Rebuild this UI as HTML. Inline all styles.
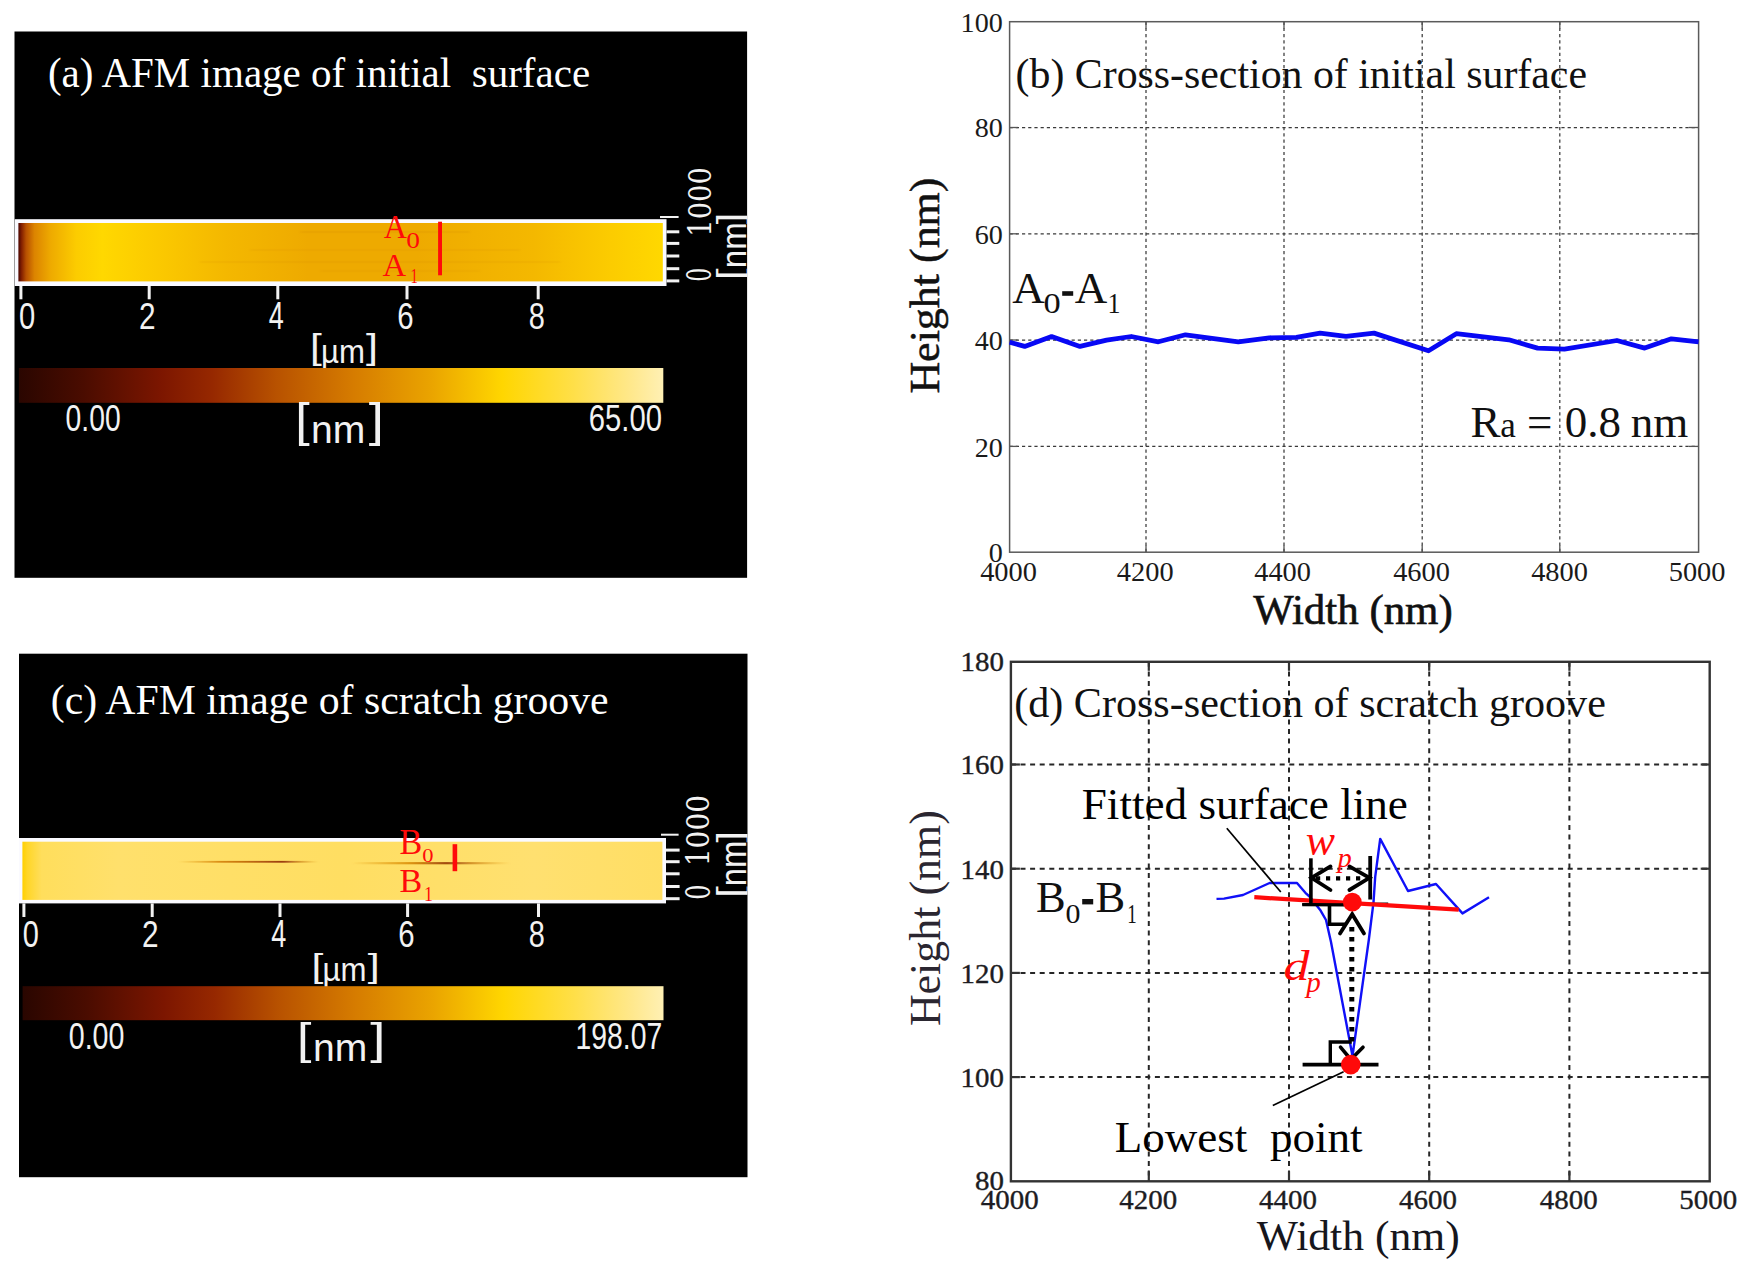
<!DOCTYPE html>
<html lang="en"><head><meta charset="utf-8"><title>AFM figure</title>
<style>html,body{margin:0;padding:0;background:#fff;overflow:hidden}svg{display:block}text{white-space:pre}</style></head><body>
<svg width="1749" height="1268" viewBox="0 0 1749 1268">
<defs>
<linearGradient id="cbar" x1="0" x2="1" y1="0" y2="0">
<stop offset="0" stop-color="#2a0600"/><stop offset="0.10" stop-color="#4a0c00"/><stop offset="0.22" stop-color="#7c1600"/>
<stop offset="0.30" stop-color="#962800"/><stop offset="0.40" stop-color="#b85200"/><stop offset="0.52" stop-color="#d67c00"/>
<stop offset="0.64" stop-color="#eaa400"/><stop offset="0.75" stop-color="#ffd600"/><stop offset="0.86" stop-color="#ffdf48"/>
<stop offset="0.95" stop-color="#ffe88c"/><stop offset="1" stop-color="#fff0b4"/>
</linearGradient>
<linearGradient id="stripA" x1="0" x2="1" y1="0" y2="0">
<stop offset="0" stop-color="#4a0500"/><stop offset="0.005" stop-color="#842000"/><stop offset="0.012" stop-color="#b85000"/>
<stop offset="0.025" stop-color="#dc8400"/><stop offset="0.05" stop-color="#eeaa00"/><stop offset="0.09" stop-color="#fccc00"/>
<stop offset="0.13" stop-color="#ffd800"/><stop offset="0.20" stop-color="#fccc00"/><stop offset="0.32" stop-color="#f4b800"/>
<stop offset="0.45" stop-color="#eeaa00"/><stop offset="0.62" stop-color="#eeaa00"/><stop offset="0.80" stop-color="#f4b800"/>
<stop offset="0.92" stop-color="#fccc00"/><stop offset="1" stop-color="#ffd800"/>
</linearGradient>
<linearGradient id="stripC" x1="0" x2="1" y1="0" y2="0">
<stop offset="0" stop-color="#ffd000"/><stop offset="0.008" stop-color="#ffd628"/><stop offset="0.03" stop-color="#ffde5c"/><stop offset="0.15" stop-color="#ffe06c"/>
<stop offset="0.5" stop-color="#ffde62"/><stop offset="0.8" stop-color="#ffe070"/><stop offset="1" stop-color="#ffde64"/>
</linearGradient>
<linearGradient id="scr1" x1="0" x2="1" y1="0" y2="0">
<stop offset="0" stop-color="#e09000" stop-opacity="0"/><stop offset="0.3" stop-color="#d07800" stop-opacity="0.8"/>
<stop offset="0.75" stop-color="#9a3c10" stop-opacity="1"/><stop offset="1" stop-color="#d08000" stop-opacity="0"/>
</linearGradient>
<linearGradient id="scr2" x1="0" x2="1" y1="0" y2="0">
<stop offset="0" stop-color="#e09000" stop-opacity="0"/><stop offset="0.35" stop-color="#d88800" stop-opacity="0.8"/>
<stop offset="0.6" stop-color="#a04810" stop-opacity="1"/><stop offset="1" stop-color="#e09000" stop-opacity="0"/>
</linearGradient>
<filter id="b1" x="-5%" y="-200%" width="110%" height="500%"><feGaussianBlur stdDeviation="1.5 0.7"/></filter>
<clipPath id="clipA"><rect x="14.5" y="31.5" width="732.6" height="546.3"/></clipPath>
<clipPath id="clipC"><rect x="19" y="653.7" width="728.5" height="523.5"/></clipPath>
</defs>
<rect x="14.50" y="31.50" width="732.60" height="546.30" fill="#000" />
<g clip-path="url(#clipA)">
<rect x="14.50" y="219.20" width="652.00" height="66.80" fill="#fafaff" />
<rect x="18.40" y="223.00" width="644.40" height="58.40" fill="url(#stripA)" />
<rect x="300.00" y="230.80" width="170.00" height="2.40" fill="#c87800" opacity="0.1" filter="url(#b1)"/>
<rect x="250.00" y="248.80" width="270.00" height="2.40" fill="#c87800" opacity="0.07" filter="url(#b1)"/>
<rect x="200.00" y="260.80" width="360.00" height="2.40" fill="#c87800" opacity="0.08" filter="url(#b1)"/>
<rect x="320.00" y="269.80" width="160.00" height="2.40" fill="#c87800" opacity="0.06" filter="url(#b1)"/>
<rect x="19.40" y="286.00" width="3.00" height="13.30" fill="#f2f2f2" />
<rect x="147.70" y="286.00" width="3.00" height="13.30" fill="#f2f2f2" />
<rect x="276.30" y="286.00" width="3.00" height="13.30" fill="#f2f2f2" />
<rect x="405.50" y="286.00" width="3.00" height="13.30" fill="#f2f2f2" />
<rect x="536.70" y="286.00" width="3.00" height="13.30" fill="#f2f2f2" />
<rect x="666.50" y="230.30" width="12.80" height="3.00" fill="#f2f2f2" />
<rect x="666.50" y="241.90" width="12.80" height="3.00" fill="#f2f2f2" />
<rect x="666.50" y="254.50" width="12.80" height="3.00" fill="#f2f2f2" />
<rect x="666.50" y="267.20" width="12.80" height="3.00" fill="#f2f2f2" />
<rect x="666.50" y="279.40" width="12.80" height="3.00" fill="#f2f2f2" />
<rect x="660.00" y="216.00" width="18.60" height="2.00" fill="#f2f2f2" />
<text transform="matrix(0.8100 0 0 1.0299 18.93 329.23)" style="font-family:'Liberation Sans', sans-serif;font-size:36px" fill="#f2f2f2"  xml:space="preserve">0</text>
<text transform="matrix(0.8273 0 0 1.0367 138.91 329.40)" style="font-family:'Liberation Sans', sans-serif;font-size:36px" fill="#f2f2f2"  xml:space="preserve">2</text>
<text transform="matrix(0.7506 0 0 1.0518 268.67 329.40)" style="font-family:'Liberation Sans', sans-serif;font-size:36px" fill="#f2f2f2"  xml:space="preserve">4</text>
<text transform="matrix(0.8153 0 0 1.0220 397.33 329.03)" style="font-family:'Liberation Sans', sans-serif;font-size:36px" fill="#f2f2f2"  xml:space="preserve">6</text>
<text transform="matrix(0.8038 0 0 1.0220 528.85 329.03)" style="font-family:'Liberation Sans', sans-serif;font-size:36px" fill="#f2f2f2"  xml:space="preserve">8</text>
<text transform="matrix(1.2500 0 0 1.0120 310.12 358.69)" style="font-family:'Liberation Sans', sans-serif;font-size:34px" fill="#f2f2f2"  xml:space="preserve">[</text>
<text transform="matrix(1.2647 0 0 1.0120 366.11 358.69)" style="font-family:'Liberation Sans', sans-serif;font-size:34px" fill="#f2f2f2"  xml:space="preserve">]</text>
<text transform="matrix(0.9169 0 0 0.9700 320.92 362.50)" style="font-family:'Liberation Sans', sans-serif;font-size:34px" fill="#f2f2f2"  xml:space="preserve">µm</text>
<rect x="18.90" y="368.00" width="644.40" height="34.80" fill="url(#cbar)" />
<text transform="matrix(0.7857 0 0 1.0377 65.57 431.33)" style="font-family:'Liberation Sans', sans-serif;font-size:36px" fill="#f2f2f2"  xml:space="preserve">0.00</text>
<text transform="matrix(0.8115 0 0 1.0181 588.84 431.43)" style="font-family:'Liberation Sans', sans-serif;font-size:36px" fill="#f2f2f2"  xml:space="preserve">65.00</text>
<text transform="matrix(1.1818 0 0 1.0508 295.16 436.34)" style="font-family:'Liberation Sans', sans-serif;font-size:44px" fill="#f2f2f2"  xml:space="preserve">[</text>
<text transform="matrix(1.2386 0 0 1.0508 368.64 436.34)" style="font-family:'Liberation Sans', sans-serif;font-size:44px" fill="#f2f2f2"  xml:space="preserve">]</text>
<text transform="matrix(0.9768 0 0 0.9783 311.10 443.10)" style="font-family:'Liberation Sans', sans-serif;font-size:40px" fill="#f2f2f2"  xml:space="preserve">nm</text>
<text transform="translate(711.14 281.87) rotate(-90) scale(0.7351 1.1454)" style="font-family:'DejaVu Serif', 'Liberation Serif', serif;font-size:30px" fill="#f2f2f2"  xml:space="preserve">0</text>
<text transform="translate(710.57 236.78) rotate(-90) scale(0.9137 1.0793)" style="font-family:'DejaVu Serif', 'Liberation Serif', serif;font-size:30px" fill="#f2f2f2"  xml:space="preserve">1000</text>
<text transform="translate(742.34 279.94) rotate(-90) scale(1.2353 1.0183)" style="font-family:'Liberation Sans', sans-serif;font-size:34px" fill="#f2f2f2"  xml:space="preserve">[</text>
<text transform="translate(742.34 224.27) rotate(-90) scale(1.2059 1.0183)" style="font-family:'Liberation Sans', sans-serif;font-size:34px" fill="#f2f2f2"  xml:space="preserve">]</text>
<text transform="translate(746.40 268.20) rotate(-90) scale(0.9713 1.0522)" style="font-family:'Liberation Sans', sans-serif;font-size:34px" fill="#f2f2f2"  xml:space="preserve">nm</text>
<text transform="matrix(0.9448 0 0 1.0071 383.68 238.00)" style="font-family:'Liberation Serif', serif;font-size:34px" fill="#ff0a0a"  xml:space="preserve">A</text>
<text transform="matrix(1.2464 0 0 1.0210 406.29 247.98)" style="font-family:'Liberation Serif', serif;font-size:22px" fill="#ff0a0a"  xml:space="preserve">0</text>
<text transform="matrix(0.9656 0 0 0.9447 382.47 275.60)" style="font-family:'Liberation Serif', serif;font-size:34px" fill="#ff0a0a"  xml:space="preserve">A</text>
<text transform="matrix(0.6690 0 0 0.9504 410.42 283.30)" style="font-family:'Liberation Serif', serif;font-size:22px" fill="#ff0a0a"  xml:space="preserve">1</text>
<rect x="438.10" y="221.70" width="3.90" height="53.60" fill="#ff0a0a" />
</g>
<text transform="matrix(0.9589 0 0 1.0000 47.92 87.30)" style="font-family:'Liberation Serif', serif;font-size:42.8px" fill="#fff"  xml:space="preserve">(a) AFM image of initial  surface</text>
<rect x="19.00" y="653.70" width="728.50" height="523.50" fill="#000" />
<g clip-path="url(#clipC)">
<rect x="19.00" y="838.00" width="647.00" height="65.40" fill="#fafaff" />
<rect x="22.40" y="841.70" width="640.00" height="58.20" fill="url(#stripC)" />
<rect x="178.00" y="860.90" width="140.00" height="1.80" fill="url(#scr1)" filter="url(#b1)"/>
<rect x="352.00" y="862.10" width="158.00" height="2.20" fill="url(#scr2)" filter="url(#b1)"/>
<rect x="22.40" y="903.40" width="3.00" height="13.60" fill="#f2f2f2" />
<rect x="150.70" y="903.40" width="3.00" height="13.60" fill="#f2f2f2" />
<rect x="278.50" y="903.40" width="3.00" height="13.60" fill="#f2f2f2" />
<rect x="406.10" y="903.40" width="3.00" height="13.60" fill="#f2f2f2" />
<rect x="537.00" y="903.40" width="3.00" height="13.60" fill="#f2f2f2" />
<rect x="666.00" y="848.60" width="13.60" height="3.00" fill="#f2f2f2" />
<rect x="666.00" y="860.20" width="13.60" height="3.00" fill="#f2f2f2" />
<rect x="666.00" y="872.30" width="13.60" height="3.00" fill="#f2f2f2" />
<rect x="666.00" y="885.00" width="13.60" height="3.00" fill="#f2f2f2" />
<rect x="666.00" y="897.20" width="13.60" height="3.00" fill="#f2f2f2" />
<rect x="661.00" y="833.70" width="17.60" height="2.00" fill="#f2f2f2" />
<text transform="matrix(0.8042 0 0 1.0299 22.74 946.83)" style="font-family:'Liberation Sans', sans-serif;font-size:36px" fill="#f2f2f2"  xml:space="preserve">0</text>
<text transform="matrix(0.8273 0 0 1.0367 142.01 947.00)" style="font-family:'Liberation Sans', sans-serif;font-size:36px" fill="#f2f2f2"  xml:space="preserve">2</text>
<text transform="matrix(0.7506 0 0 1.0518 271.17 947.00)" style="font-family:'Liberation Sans', sans-serif;font-size:36px" fill="#f2f2f2"  xml:space="preserve">4</text>
<text transform="matrix(0.8153 0 0 1.0220 398.23 946.63)" style="font-family:'Liberation Sans', sans-serif;font-size:36px" fill="#f2f2f2"  xml:space="preserve">6</text>
<text transform="matrix(0.8038 0 0 1.0220 528.85 946.63)" style="font-family:'Liberation Sans', sans-serif;font-size:36px" fill="#f2f2f2"  xml:space="preserve">8</text>
<text transform="matrix(1.2500 0 0 0.9930 311.52 976.72)" style="font-family:'Liberation Sans', sans-serif;font-size:34px" fill="#f2f2f2"  xml:space="preserve">[</text>
<text transform="matrix(1.2647 0 0 0.9930 367.71 976.72)" style="font-family:'Liberation Sans', sans-serif;font-size:34px" fill="#f2f2f2"  xml:space="preserve">]</text>
<text transform="matrix(0.9169 0 0 0.9700 322.52 980.50)" style="font-family:'Liberation Sans', sans-serif;font-size:34px" fill="#f2f2f2"  xml:space="preserve">µm</text>
<rect x="22.60" y="986.20" width="640.90" height="34.00" fill="url(#cbar)" />
<text transform="matrix(0.7946 0 0 1.0377 68.76 1048.83)" style="font-family:'Liberation Sans', sans-serif;font-size:36px" fill="#f2f2f2"  xml:space="preserve">0.00</text>
<text transform="matrix(0.7869 0 0 1.0063 575.53 1048.84)" style="font-family:'Liberation Sans', sans-serif;font-size:36px" fill="#f2f2f2"  xml:space="preserve">198.07</text>
<text transform="matrix(1.1818 0 0 1.0288 296.96 1053.64)" style="font-family:'Liberation Sans', sans-serif;font-size:44px" fill="#f2f2f2"  xml:space="preserve">[</text>
<text transform="matrix(1.2386 0 0 1.0288 370.34 1053.64)" style="font-family:'Liberation Sans', sans-serif;font-size:44px" fill="#f2f2f2"  xml:space="preserve">]</text>
<text transform="matrix(0.9768 0 0 0.9689 312.90 1060.60)" style="font-family:'Liberation Sans', sans-serif;font-size:40px" fill="#f2f2f2"  xml:space="preserve">nm</text>
<text transform="translate(710.25 899.70) rotate(-90) scale(0.8013 1.1189)" style="font-family:'DejaVu Serif', 'Liberation Serif', serif;font-size:30px" fill="#f2f2f2"  xml:space="preserve">0</text>
<text transform="translate(709.07 866.26) rotate(-90) scale(0.9364 1.0661)" style="font-family:'DejaVu Serif', 'Liberation Serif', serif;font-size:30px" fill="#f2f2f2"  xml:space="preserve">1000</text>
<text transform="translate(742.10 897.74) rotate(-90) scale(1.2353 1.0531)" style="font-family:'Liberation Sans', sans-serif;font-size:34px" fill="#f2f2f2"  xml:space="preserve">[</text>
<text transform="translate(742.10 842.57) rotate(-90) scale(1.2059 1.0531)" style="font-family:'Liberation Sans', sans-serif;font-size:34px" fill="#f2f2f2"  xml:space="preserve">]</text>
<text transform="translate(746.40 886.19) rotate(-90) scale(0.9643 1.0906)" style="font-family:'Liberation Sans', sans-serif;font-size:34px" fill="#f2f2f2"  xml:space="preserve">nm</text>
<text transform="matrix(1.0020 0 0 1.0257 399.38 854.38)" style="font-family:'Liberation Serif', serif;font-size:34px" fill="#ff0a0a"  xml:space="preserve">B</text>
<text transform="matrix(1.0227 0 0 0.8934 422.18 862.30)" style="font-family:'Liberation Serif', serif;font-size:22px" fill="#ff0a0a"  xml:space="preserve">0</text>
<text transform="matrix(1.0020 0 0 1.0033 399.38 891.89)" style="font-family:'Liberation Serif', serif;font-size:34px" fill="#ff0a0a"  xml:space="preserve">B</text>
<text transform="matrix(0.8105 0 0 0.9298 423.95 900.50)" style="font-family:'Liberation Serif', serif;font-size:22px" fill="#ff0a0a"  xml:space="preserve">1</text>
<rect x="452.60" y="844.20" width="4.60" height="27.00" fill="#ff0a0a" />
</g>
<text transform="matrix(0.9947 0 0 1.0000 50.79 713.90)" style="font-family:'Liberation Serif', serif;font-size:42px" fill="#fff"  xml:space="preserve">(c) AFM image of scratch groove</text>
<line x1="1146.00" y1="21.70" x2="1146.00" y2="552.20" stroke="#3a3a3a" stroke-width="1.25" stroke-dasharray="3.2 3"/>
<line x1="1146.00" y1="21.70" x2="1146.00" y2="28.70" stroke="#555" stroke-width="1.3" />
<line x1="1146.00" y1="545.20" x2="1146.00" y2="552.20" stroke="#555" stroke-width="1.3" />
<line x1="1284.00" y1="21.70" x2="1284.00" y2="552.20" stroke="#3a3a3a" stroke-width="1.25" stroke-dasharray="3.2 3"/>
<line x1="1284.00" y1="21.70" x2="1284.00" y2="28.70" stroke="#555" stroke-width="1.3" />
<line x1="1284.00" y1="545.20" x2="1284.00" y2="552.20" stroke="#555" stroke-width="1.3" />
<line x1="1422.20" y1="21.70" x2="1422.20" y2="552.20" stroke="#3a3a3a" stroke-width="1.25" stroke-dasharray="3.2 3"/>
<line x1="1422.20" y1="21.70" x2="1422.20" y2="28.70" stroke="#555" stroke-width="1.3" />
<line x1="1422.20" y1="545.20" x2="1422.20" y2="552.20" stroke="#555" stroke-width="1.3" />
<line x1="1559.80" y1="21.70" x2="1559.80" y2="552.20" stroke="#3a3a3a" stroke-width="1.25" stroke-dasharray="3.2 3"/>
<line x1="1559.80" y1="21.70" x2="1559.80" y2="28.70" stroke="#555" stroke-width="1.3" />
<line x1="1559.80" y1="545.20" x2="1559.80" y2="552.20" stroke="#555" stroke-width="1.3" />
<line x1="1009.60" y1="127.50" x2="1698.60" y2="127.50" stroke="#3a3a3a" stroke-width="1.25" stroke-dasharray="3.2 3"/>
<line x1="1009.60" y1="127.50" x2="1017.60" y2="127.50" stroke="#555" stroke-width="1.3" />
<line x1="1688.60" y1="127.50" x2="1698.60" y2="127.50" stroke="#555" stroke-width="1.3" />
<line x1="1009.60" y1="233.80" x2="1698.60" y2="233.80" stroke="#3a3a3a" stroke-width="1.25" stroke-dasharray="3.2 3"/>
<line x1="1009.60" y1="233.80" x2="1017.60" y2="233.80" stroke="#555" stroke-width="1.3" />
<line x1="1688.60" y1="233.80" x2="1698.60" y2="233.80" stroke="#555" stroke-width="1.3" />
<line x1="1009.60" y1="340.00" x2="1698.60" y2="340.00" stroke="#3a3a3a" stroke-width="1.25" stroke-dasharray="3.2 3"/>
<line x1="1009.60" y1="340.00" x2="1017.60" y2="340.00" stroke="#555" stroke-width="1.3" />
<line x1="1688.60" y1="340.00" x2="1698.60" y2="340.00" stroke="#555" stroke-width="1.3" />
<line x1="1009.60" y1="446.40" x2="1698.60" y2="446.40" stroke="#3a3a3a" stroke-width="1.25" stroke-dasharray="3.2 3"/>
<line x1="1009.60" y1="446.40" x2="1017.60" y2="446.40" stroke="#555" stroke-width="1.3" />
<line x1="1688.60" y1="446.40" x2="1698.60" y2="446.40" stroke="#555" stroke-width="1.3" />
<rect x="1009.6" y="21.7" width="688.9999999999999" height="530.5" fill="none" stroke="#5a5a5a" stroke-width="1.5"/>
<text transform="matrix(1.0700 0 0 1 960.62 32.10)" style="font-family:'Liberation Serif', serif;font-size:26.3px" fill="#1a1a1a"  xml:space="preserve">100</text>
<text transform="matrix(1.0700 0 0 1 974.69 137.40)" style="font-family:'Liberation Serif', serif;font-size:26.3px" fill="#1a1a1a"  xml:space="preserve">80</text>
<text transform="matrix(1.0700 0 0 1 974.69 243.80)" style="font-family:'Liberation Serif', serif;font-size:26.3px" fill="#1a1a1a"  xml:space="preserve">60</text>
<text transform="matrix(1.0700 0 0 1 974.69 350.20)" style="font-family:'Liberation Serif', serif;font-size:26.3px" fill="#1a1a1a"  xml:space="preserve">40</text>
<text transform="matrix(1.0700 0 0 1 974.69 456.60)" style="font-family:'Liberation Serif', serif;font-size:26.3px" fill="#1a1a1a"  xml:space="preserve">20</text>
<text transform="matrix(1.0700 0 0 1 988.76 562.00)" style="font-family:'Liberation Serif', serif;font-size:26.3px" fill="#1a1a1a"  xml:space="preserve">0</text>
<text transform="matrix(1.0800 0 0 1 980.13 580.80)" style="font-family:'Liberation Serif', serif;font-size:26.3px" fill="#1a1a1a"  xml:space="preserve">4000</text>
<text transform="matrix(1.0800 0 0 1 1116.83 580.80)" style="font-family:'Liberation Serif', serif;font-size:26.3px" fill="#1a1a1a"  xml:space="preserve">4200</text>
<text transform="matrix(1.0800 0 0 1 1254.23 580.80)" style="font-family:'Liberation Serif', serif;font-size:26.3px" fill="#1a1a1a"  xml:space="preserve">4400</text>
<text transform="matrix(1.0800 0 0 1 1393.13 580.80)" style="font-family:'Liberation Serif', serif;font-size:26.3px" fill="#1a1a1a"  xml:space="preserve">4600</text>
<text transform="matrix(1.0800 0 0 1 1531.13 580.80)" style="font-family:'Liberation Serif', serif;font-size:26.3px" fill="#1a1a1a"  xml:space="preserve">4800</text>
<text transform="matrix(1.0800 0 0 1 1668.71 580.80)" style="font-family:'Liberation Serif', serif;font-size:26.3px" fill="#1a1a1a"  xml:space="preserve">5000</text>
<text transform="matrix(0.9729 0 0 1.0000 1015.59 87.90)" style="font-family:'Liberation Serif', serif;font-size:43px" fill="#111"  xml:space="preserve">(b) Cross-section of initial surface</text>
<text transform="matrix(1.0000 0 0 1 1012.35 303.00)" style="font-family:'Liberation Serif', serif;font-size:45px" fill="#111"  xml:space="preserve">A</text>
<text transform="matrix(1.1484 0 0 1.0000 1043.54 313.00)" style="font-family:'Liberation Serif', serif;font-size:30px" fill="#111"  xml:space="preserve">0</text>
<rect x="1062.20" y="291.20" width="11.00" height="4.60" fill="#111" />
<text transform="matrix(1.0000 0 0 1 1074.75 303.00)" style="font-family:'Liberation Serif', serif;font-size:45px" fill="#111"  xml:space="preserve">A</text>
<text transform="matrix(0.8679 0 0 0.9848 1107.54 313.10)" style="font-family:'Liberation Serif', serif;font-size:30px" fill="#111"  xml:space="preserve">1</text>
<text transform="matrix(1.0000 0 0 1 1470.45 436.50)" style="font-family:'Liberation Serif', serif;font-size:45px" fill="#111"  xml:space="preserve">R</text>
<text transform="matrix(1.0000 0 0 1 1500.33 436.50)" style="font-family:'Liberation Serif', serif;font-size:35px" fill="#111"  xml:space="preserve">a</text>
<text transform="matrix(1.0000 0 0 1 1526.95 436.50)" style="font-family:'Liberation Serif', serif;font-size:45px" fill="#111"  xml:space="preserve">=</text>
<text transform="matrix(1.0000 0 0 1 1564.65 436.50)" style="font-family:'Liberation Serif', serif;font-size:45px" fill="#111"  xml:space="preserve">0.8</text>
<text transform="matrix(1.0000 0 0 1 1630.65 436.50)" style="font-family:'Liberation Serif', serif;font-size:45px" fill="#111"  xml:space="preserve">nm</text>
<text transform="translate(939.21 393.62) rotate(-90) scale(1.0466 1.0204)" style="font-family:'Liberation Serif', serif;font-size:42px" fill="#111" stroke="#111" stroke-width="0.5" xml:space="preserve">Height (nm)</text>
<text transform="matrix(1.0339 0 0 1.0000 1253.20 624.20)" style="font-family:'Liberation Serif', serif;font-size:41.5px" fill="#111" stroke="#111" stroke-width="0.6" xml:space="preserve">Width (nm)</text>
<polyline points="1009.6,342.3 1024.7,346.4 1051.6,336.6 1080.0,346.4 1106.6,340.2 1131.3,336.5 1158.4,341.8 1185.5,334.8 1238.3,341.8 1269.3,337.8 1296.4,337.4 1320.1,333.1 1346.0,336.3 1374.0,333.1 1428.5,350.8 1456.3,333.7 1508.8,339.8 1537.6,348.1 1564.4,349.1 1616.9,340.5 1644.7,348.1 1671.4,338.8 1698.6,341.9" fill="none" stroke="#0808f4" stroke-width="4.8" stroke-linejoin="round"/>
<line x1="1148.80" y1="661.80" x2="1148.80" y2="1181.30" stroke="#262626" stroke-width="2" stroke-dasharray="5 4.6"/>
<line x1="1148.80" y1="661.80" x2="1148.80" y2="670.80" stroke="#333" stroke-width="2.2" />
<line x1="1148.80" y1="1171.30" x2="1148.80" y2="1181.30" stroke="#333" stroke-width="2.2" />
<line x1="1289.00" y1="661.80" x2="1289.00" y2="1181.30" stroke="#262626" stroke-width="2" stroke-dasharray="5 4.6"/>
<line x1="1289.00" y1="661.80" x2="1289.00" y2="670.80" stroke="#333" stroke-width="2.2" />
<line x1="1289.00" y1="1171.30" x2="1289.00" y2="1181.30" stroke="#333" stroke-width="2.2" />
<line x1="1429.20" y1="661.80" x2="1429.20" y2="1181.30" stroke="#262626" stroke-width="2" stroke-dasharray="5 4.6"/>
<line x1="1429.20" y1="661.80" x2="1429.20" y2="670.80" stroke="#333" stroke-width="2.2" />
<line x1="1429.20" y1="1171.30" x2="1429.20" y2="1181.30" stroke="#333" stroke-width="2.2" />
<line x1="1569.40" y1="661.80" x2="1569.40" y2="1181.30" stroke="#262626" stroke-width="2" stroke-dasharray="5 4.6"/>
<line x1="1569.40" y1="661.80" x2="1569.40" y2="670.80" stroke="#333" stroke-width="2.2" />
<line x1="1569.40" y1="1171.30" x2="1569.40" y2="1181.30" stroke="#333" stroke-width="2.2" />
<line x1="1010.90" y1="764.50" x2="1709.70" y2="764.50" stroke="#262626" stroke-width="2" stroke-dasharray="5 4.6"/>
<line x1="1010.90" y1="764.50" x2="1019.90" y2="764.50" stroke="#333" stroke-width="2.2" />
<line x1="1700.70" y1="764.50" x2="1709.70" y2="764.50" stroke="#333" stroke-width="2.2" />
<line x1="1010.90" y1="868.70" x2="1709.70" y2="868.70" stroke="#262626" stroke-width="2" stroke-dasharray="5 4.6"/>
<line x1="1010.90" y1="868.70" x2="1019.90" y2="868.70" stroke="#333" stroke-width="2.2" />
<line x1="1700.70" y1="868.70" x2="1709.70" y2="868.70" stroke="#333" stroke-width="2.2" />
<line x1="1010.90" y1="972.90" x2="1709.70" y2="972.90" stroke="#262626" stroke-width="2" stroke-dasharray="5 4.6"/>
<line x1="1010.90" y1="972.90" x2="1019.90" y2="972.90" stroke="#333" stroke-width="2.2" />
<line x1="1700.70" y1="972.90" x2="1709.70" y2="972.90" stroke="#333" stroke-width="2.2" />
<line x1="1010.90" y1="1077.10" x2="1709.70" y2="1077.10" stroke="#262626" stroke-width="2" stroke-dasharray="5 4.6"/>
<line x1="1010.90" y1="1077.10" x2="1019.90" y2="1077.10" stroke="#333" stroke-width="2.2" />
<line x1="1700.70" y1="1077.10" x2="1709.70" y2="1077.10" stroke="#333" stroke-width="2.2" />
<rect x="1010.9" y="661.8" width="698.8000000000001" height="519.5" fill="none" stroke="#333" stroke-width="2.4"/>
<polyline points="1216.5,898.9 1224.0,898.6 1243.0,895.0 1269.6,883.0 1297.0,883.0 1305.4,892.8 1309.5,896.5 1320.6,910.6 1326.0,920.0 1331.0,942.0 1352.5,1056.0 1368.8,940.0 1373.5,902.3 1375.2,876.8 1380.2,838.9 1408.0,891.0 1436.0,884.0 1462.5,913.4 1489.0,897.3" fill="none" stroke="#1010f8" stroke-width="2.4" stroke-linejoin="round"/>
<line x1="1302.20" y1="904.40" x2="1388.20" y2="903.20" stroke="#000" stroke-width="1.6" />
<line x1="1226.80" y1="828.30" x2="1280.80" y2="892.00" stroke="#000" stroke-width="1.7" />
<line x1="1272.80" y1="1105.60" x2="1343.60" y2="1071.80" stroke="#000" stroke-width="1.7" />
<line x1="1254.30" y1="897.20" x2="1458.70" y2="909.60" stroke="#ff0a0a" stroke-width="4.2" />
<line x1="1310.90" y1="858.30" x2="1310.90" y2="905.50" stroke="#000" stroke-width="3.6" />
<line x1="1370.20" y1="856.00" x2="1370.20" y2="899.50" stroke="#000" stroke-width="3.8" />
<line x1="1302.20" y1="904.70" x2="1344.00" y2="904.90" stroke="#000" stroke-width="3.2" />
<line x1="1316.00" y1="878.30" x2="1366.00" y2="878.30" stroke="#000" stroke-width="4.2" stroke-dasharray="4.2 5.8"/>
<polyline points="1330.5,866.4 1311.5,877.9 1330.5,890.0" fill="none" stroke="#000" stroke-width="3.8" stroke-linecap="round" stroke-linejoin="miter"/>
<polyline points="1349.4,866.4 1369.4,877.9 1349.4,890.0" fill="none" stroke="#000" stroke-width="3.8" stroke-linecap="round" stroke-linejoin="miter"/>
<polyline points="1329.5,905.6 1329.5,924.3 1346.0,924.3" fill="none" stroke="#000" stroke-width="3.6" />
<polyline points="1340.0,933.5 1352.2,914.2 1364.0,933.5" fill="none" stroke="#000" stroke-width="3.8" stroke-linecap="round"/>
<line x1="1351.80" y1="927.00" x2="1351.80" y2="1046.00" stroke="#000" stroke-width="5" stroke-dasharray="4.6 5.4"/>
<line x1="1302.60" y1="1064.60" x2="1378.50" y2="1064.60" stroke="#000" stroke-width="3.7" />
<polyline points="1330.3,1064.6 1330.3,1042.0 1351.8,1042.0" fill="none" stroke="#000" stroke-width="3.4" />
<polyline points="1340.5,1047.2 1350.8,1059.5 1363.0,1047.2" fill="none" stroke="#000" stroke-width="3.6" stroke-linecap="round"/>
<circle cx="1352.3" cy="902.2" r="9.4" fill="#ff0a0a"/>
<circle cx="1350.8" cy="1064.6" r="9.8" fill="#ff0a0a"/>
<text transform="matrix(1.1000 0 0 1 960.47 670.70)" style="font-family:'Liberation Serif', serif;font-size:26.3px" fill="#1c1c22" stroke="#1c1c22" stroke-width="0.35" xml:space="preserve">180</text>
<text transform="matrix(1.1000 0 0 1 960.47 773.80)" style="font-family:'Liberation Serif', serif;font-size:26.3px" fill="#1c1c22" stroke="#1c1c22" stroke-width="0.35" xml:space="preserve">160</text>
<text transform="matrix(1.1000 0 0 1 960.47 879.30)" style="font-family:'Liberation Serif', serif;font-size:26.3px" fill="#1c1c22" stroke="#1c1c22" stroke-width="0.35" xml:space="preserve">140</text>
<text transform="matrix(1.1000 0 0 1 960.47 982.70)" style="font-family:'Liberation Serif', serif;font-size:26.3px" fill="#1c1c22" stroke="#1c1c22" stroke-width="0.35" xml:space="preserve">120</text>
<text transform="matrix(1.1000 0 0 1 960.47 1087.00)" style="font-family:'Liberation Serif', serif;font-size:26.3px" fill="#1c1c22" stroke="#1c1c22" stroke-width="0.35" xml:space="preserve">100</text>
<text transform="matrix(1.1000 0 0 1 974.93 1190.10)" style="font-family:'Liberation Serif', serif;font-size:26.3px" fill="#1c1c22" stroke="#1c1c22" stroke-width="0.35" xml:space="preserve">80</text>
<text transform="matrix(1.1000 0 0 1 980.81 1208.80)" style="font-family:'Liberation Serif', serif;font-size:26.3px" fill="#1c1c22" stroke="#1c1c22" stroke-width="0.35" xml:space="preserve">4000</text>
<text transform="matrix(1.1000 0 0 1 1119.31 1208.80)" style="font-family:'Liberation Serif', serif;font-size:26.3px" fill="#1c1c22" stroke="#1c1c22" stroke-width="0.35" xml:space="preserve">4200</text>
<text transform="matrix(1.1000 0 0 1 1259.11 1208.80)" style="font-family:'Liberation Serif', serif;font-size:26.3px" fill="#1c1c22" stroke="#1c1c22" stroke-width="0.35" xml:space="preserve">4400</text>
<text transform="matrix(1.1000 0 0 1 1399.11 1208.80)" style="font-family:'Liberation Serif', serif;font-size:26.3px" fill="#1c1c22" stroke="#1c1c22" stroke-width="0.35" xml:space="preserve">4600</text>
<text transform="matrix(1.1000 0 0 1 1539.81 1208.80)" style="font-family:'Liberation Serif', serif;font-size:26.3px" fill="#1c1c22" stroke="#1c1c22" stroke-width="0.35" xml:space="preserve">4800</text>
<text transform="matrix(1.1000 0 0 1 1679.28 1208.80)" style="font-family:'Liberation Serif', serif;font-size:26.3px" fill="#1c1c22" stroke="#1c1c22" stroke-width="0.35" xml:space="preserve">5000</text>
<text transform="matrix(0.9911 0 0 1.0000 1014.17 717.00)" style="font-family:'Liberation Serif', serif;font-size:42.5px" fill="#111"  xml:space="preserve">(d) Cross-section of scratch groove</text>
<text transform="matrix(1.0042 0 0 1.0000 1081.74 819.40)" style="font-family:'Liberation Serif', serif;font-size:45px" fill="#000"  xml:space="preserve">Fitted surface line</text>
<text transform="matrix(1.0020 0 0 1.0000 1114.65 1151.80)" style="font-family:'Liberation Serif', serif;font-size:45px" fill="#000"  xml:space="preserve">Lowest  point</text>
<text transform="matrix(1.0000 0 0 1 1036.07 912.30)" style="font-family:'Liberation Serif', serif;font-size:44.5px" fill="#111"  xml:space="preserve">B</text>
<text transform="matrix(1.0714 0 0 1.0028 1065.60 923.22)" style="font-family:'Liberation Serif', serif;font-size:28px" fill="#111"  xml:space="preserve">0</text>
<rect x="1082.20" y="899.00" width="11.00" height="5.40" fill="#111" />
<text transform="matrix(1.0000 0 0 1 1095.46 912.30)" style="font-family:'Liberation Serif', serif;font-size:44.5px" fill="#111"  xml:space="preserve">B</text>
<text transform="matrix(0.6772 0 0 0.9903 1127.26 923.30)" style="font-family:'Liberation Serif', serif;font-size:28px" fill="#111"  xml:space="preserve">1</text>
<text transform="matrix(0.9527 0 0 0.9621 1305.78 855.06)" style="font-family:'Liberation Serif', serif;font-style:italic;font-size:46px" fill="#ff0a0a"  xml:space="preserve">w</text>
<text transform="matrix(0.9824 0 0 0.9537 1337.41 866.60)" style="font-family:'Liberation Serif', serif;font-style:italic;font-size:29px" fill="#ff0a0a"  xml:space="preserve">p</text>
<text transform="matrix(1.1812 0 0 0.9662 1283.54 980.27)" style="font-family:'Liberation Serif', serif;font-style:italic;font-size:44px" fill="#ff0a0a"  xml:space="preserve">d</text>
<text transform="matrix(1.0020 0 0 0.9840 1306.34 991.91)" style="font-family:'Liberation Serif', serif;font-style:italic;font-size:29px" fill="#ff0a0a"  xml:space="preserve">p</text>
<text transform="translate(940.36 1026.12) rotate(-90) scale(1.0461 1.0597)" style="font-family:'Liberation Serif', serif;font-size:42px" fill="#2a2630"  xml:space="preserve">Height (nm)</text>
<text transform="matrix(1.0517 0 0 1.0000 1256.70 1250.00)" style="font-family:'Liberation Serif', serif;font-size:41.5px" fill="#16161c"  xml:space="preserve">Width (nm)</text>
</svg></body></html>
